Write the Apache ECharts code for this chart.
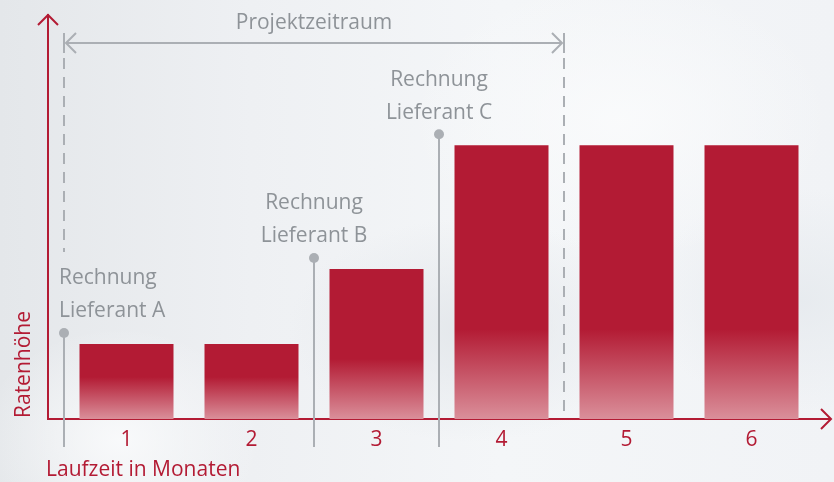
<!DOCTYPE html>
<html>
<head>
<meta charset="utf-8">
<script src="https://cdn.jsdelivr.net/npm/echarts@6/dist/echarts.min.js"></script>
<style>
  html, body { margin: 0; padding: 0; }
  body {
    width: 834px; height: 482px; overflow: hidden;
    background:
      radial-gradient(ellipse 260px 160px at 470px 330px, rgba(226,230,234,0.9), rgba(226,230,234,0) 70%),
      radial-gradient(ellipse 300px 200px at 620px 120px, rgba(250,251,252,0.9), rgba(250,251,252,0) 70%),
      radial-gradient(ellipse 200px 160px at 120px 440px, rgba(250,251,252,0.9), rgba(250,251,252,0) 70%),
      radial-gradient(ellipse 220px 160px at 800px 300px, rgba(230,234,238,0.9), rgba(230,234,238,0) 70%),
      linear-gradient(90deg, #e4e7ea 0%, #eef0f3 30%, #f4f6f8 60%, #f1f3f6 100%);
  }
  #ch { width: 834px; height: 482px; }
</style>
</head>
<body>
<div id="ch"></div>
<script>
var months = ['1', '2', '3', '4', '5', '6'];
var rates = [1, 1, 2, 3.65, 3.65, 3.65];
// Rechnungen: Monat (Index) ab dem sie zählen
var invoiceNames = ['Rechnung\nLieferant A', 'Rechnung\nLieferant B', 'Rechnung\nLieferant C'];
var invoiceStart = [0, 2, 3];
var projectFrom = 0, projectTo = 3;   // Projektzeitraum: Monat 1 bis 4

var red = '#b31b34';
var gray = '#8e9398';
var lineGray = '#abafb4';
var font = '"Open Sans", "Noto Sans", sans-serif';
var fs = 21;

var ch = echarts.init(document.getElementById('ch'));

function barColor(v) {
  var solid = 1 - (0.32 / v + 0.24);
  return new echarts.graphic.LinearGradient(0, 0, 0, 1, [
    { offset: 0, color: red },
    { offset: solid, color: red },
    { offset: 1, color: '#da8f9a' }
  ]);
}

var op = {
  animation: false,
  grid: { left: 64, right: 20, top: 14, bottom: 63 },
  xAxis: {
    type: 'category',
    data: months,
    axisLine: { show: false },
    axisTick: { show: false },
    axisLabel: { color: red, fontSize: fs, fontFamily: font, margin: 11 }
  },
  yAxis: {
    type: 'value',
    min: 0,
    max: 5.4,
    show: false
  },
  series: [{
    type: 'bar',
    barWidth: 94,
    data: rates.map(function (v) {
      return { value: v, itemStyle: { color: barColor(v) } };
    })
  }]
};
ch.setOption(op);

// Hilfslinien, Achsen und Beschriftungen aus den Achsen berechnet
var c0 = ch.convertToPixel({ xAxisIndex: 0 }, 0);
var c1 = ch.convertToPixel({ xAxisIndex: 0 }, 1);
var band = c1 - c0;
function edge(i) { return c0 + (i - 0.5) * band; }
function yPx(v) { return ch.convertToPixel({ yAxisIndex: 0 }, v); }

var baseY = yPx(0);
var gLeft = edge(0);
var gRight = edge(months.length);
var axX = gLeft - 16;
var topY = 14;

var g = [];
var axStyle = { stroke: red, lineWidth: 2, fill: null };
g.push({ type: 'line', shape: { x1: axX, y1: baseY, x2: axX, y2: topY }, style: axStyle });
g.push({ type: 'polyline', shape: { points: [[axX - 10, topY + 11], [axX, topY + 1], [axX + 10, topY + 11]] }, style: axStyle });
g.push({ type: 'line', shape: { x1: axX - 1, y1: baseY, x2: gRight + 17, y2: baseY }, style: axStyle });
g.push({ type: 'polyline', shape: { points: [[gRight + 7, baseY - 10], [gRight + 17, baseY], [gRight + 7, baseY + 10]] }, style: axStyle });

// Projektzeitraum
var pL = edge(projectFrom), pR = edge(projectTo + 1), pY = 43;
var gStyle = { stroke: lineGray, lineWidth: 2, fill: null };
var dash = { stroke: lineGray, lineWidth: 2, lineDash: [11, 8] };
g.push({ type: 'line', shape: { x1: pL, y1: 33, x2: pL, y2: 53 }, style: gStyle });
g.push({ type: 'line', shape: { x1: pR, y1: 33, x2: pR, y2: 53 }, style: gStyle });
g.push({ type: 'line', shape: { x1: pL + 2, y1: pY, x2: pR - 2, y2: pY }, style: gStyle });
g.push({ type: 'polyline', shape: { points: [[pL + 12, pY - 10], [pL + 2, pY], [pL + 12, pY + 10]] }, style: gStyle });
g.push({ type: 'polyline', shape: { points: [[pR - 12, pY - 10], [pR - 2, pY], [pR - 12, pY + 10]] }, style: gStyle });
g.push({ type: 'line', shape: { x1: pL, y1: 58, x2: pL, y2: 252 }, style: dash });
g.push({ type: 'line', shape: { x1: pR, y1: 58, x2: pR, y2: baseY - 1 }, style: dash });
g.push({ type: 'text', x: (pL + pR) / 2, y: 23, style: { text: 'Projektzeitraum', fill: gray, font: fs + 'px ' + font, align: 'center', verticalAlign: 'middle' } });

// Rechnungen
invoiceStart.forEach(function (m, k) {
  var x = edge(m);
  var dotY = yPx(rates[m]) - 11;
  g.push({ type: 'line', shape: { x1: x, y1: dotY, x2: x, y2: baseY + 28 }, style: gStyle });
  g.push({ type: 'circle', shape: { cx: x, cy: dotY, r: 5 }, style: { fill: lineGray } });
  g.push({
    type: 'text',
    x: k === 0 ? x - 5 : x,
    y: dotY - 24 + 19,
    style: {
      text: invoiceNames[k], fill: gray, font: fs + 'px ' + font, lineHeight: 33,
      align: k === 0 ? 'left' : 'center', verticalAlign: 'bottom'
    }
  });
});

g.push({ type: 'text', x: axX - 2, y: 470, style: { text: 'Laufzeit in Monaten', fill: red, font: fs + 'px ' + font, align: 'left', verticalAlign: 'middle' } });
g.push({ type: 'text', x: 24, y: baseY - 1, rotation: Math.PI / 2, style: { text: 'Ratenhöhe', fill: red, font: fs + 'px ' + font, align: 'left', verticalAlign: 'middle' } });

ch.setOption({ graphic: g });
</script>
</body>
</html>
